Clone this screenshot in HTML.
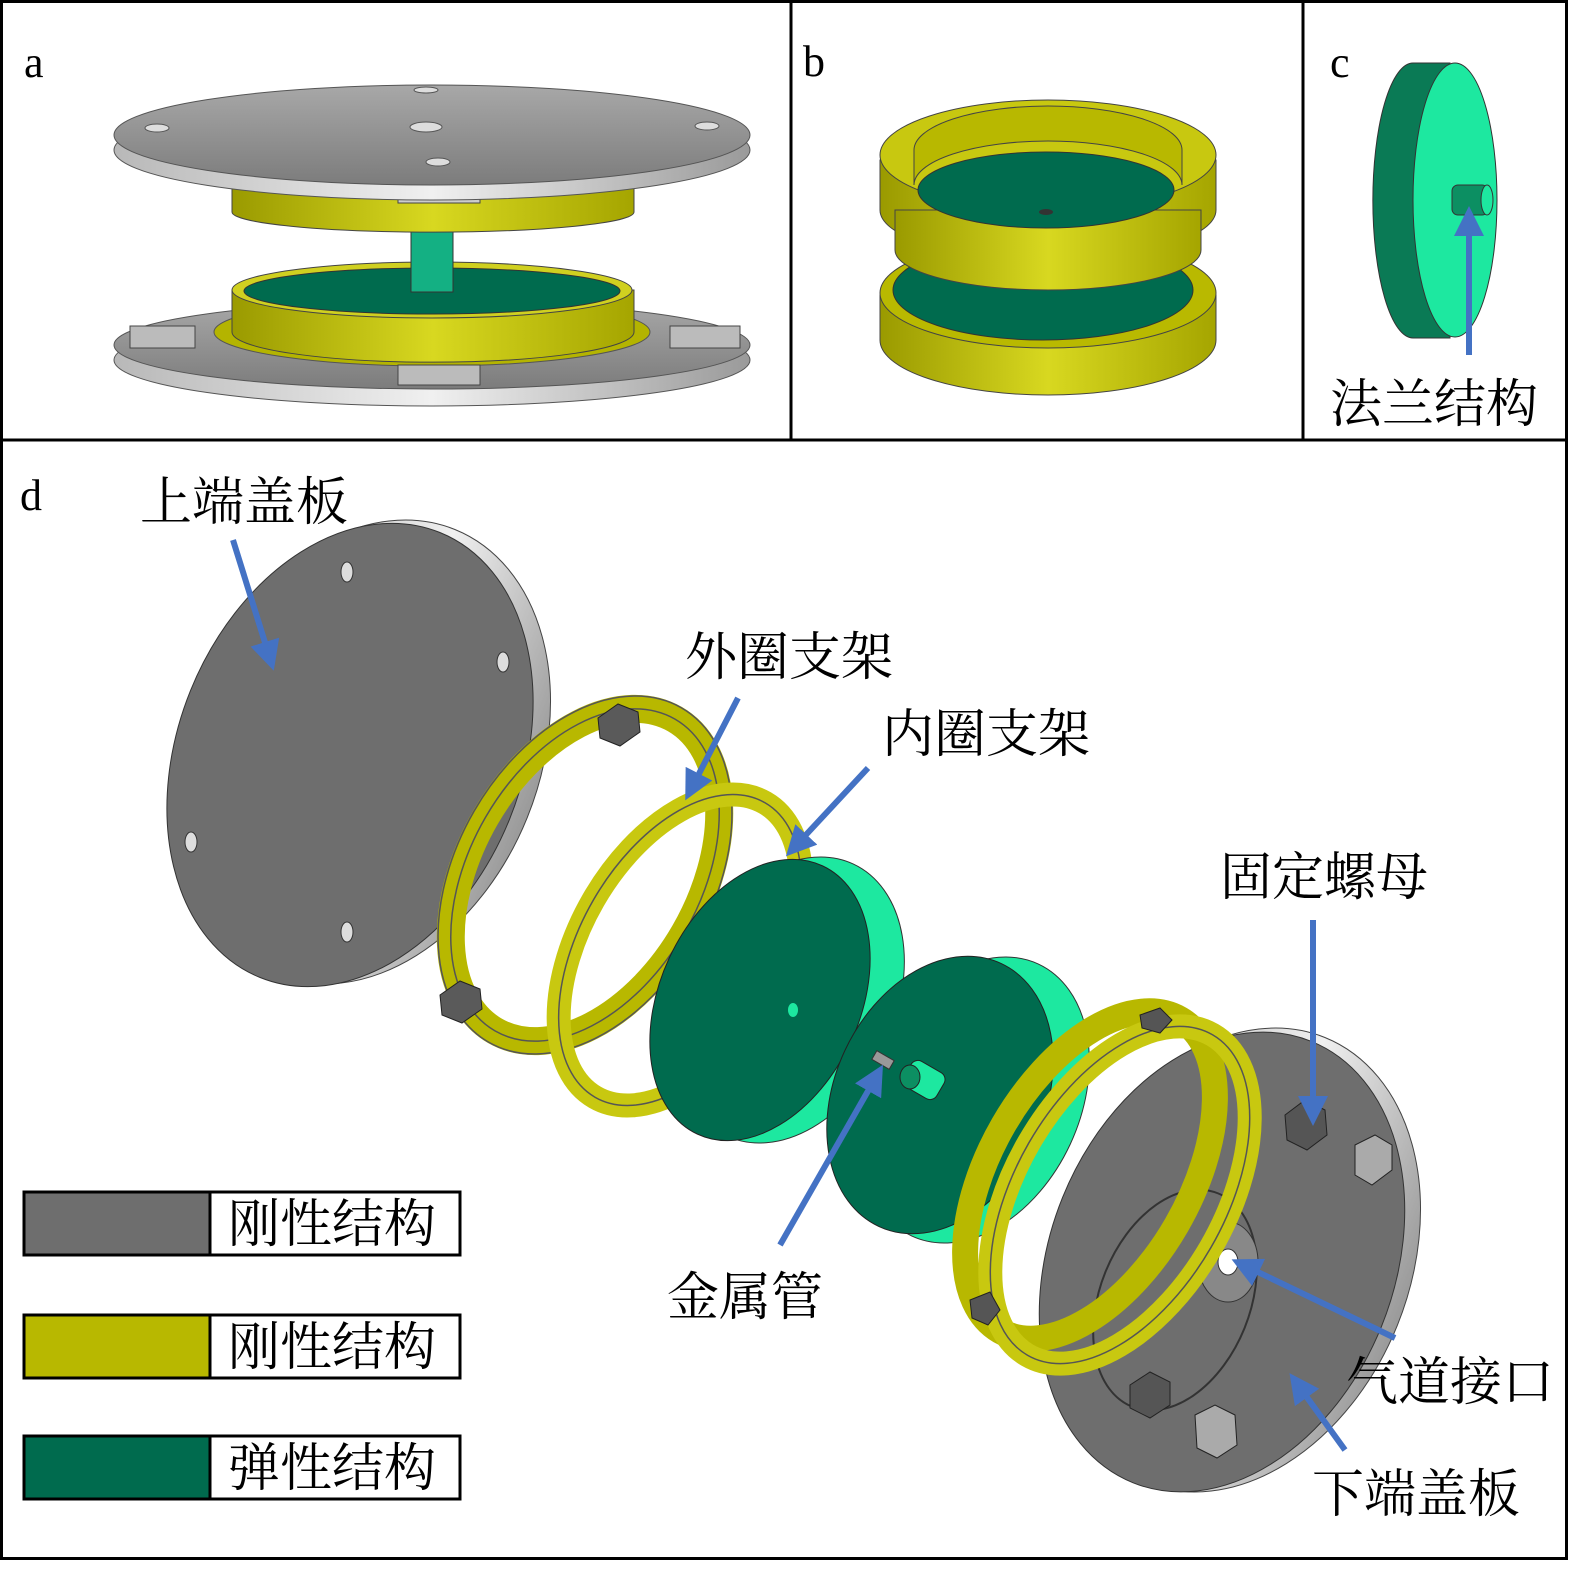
<!DOCTYPE html>
<html><head><meta charset="utf-8"><style>
body{margin:0;background:#fff}
svg{display:block}
text{font-family:"Liberation Serif","Noto Serif CJK SC",serif;fill:#000}
</style></head><body>
<svg width="1578" height="1572" viewBox="0 0 1578 1572" xmlns="http://www.w3.org/2000/svg">
<defs>
<linearGradient id="gp" x1="0" y1="0" x2="1" y2="0"><stop offset="0" stop-color="#b8b8b8"/><stop offset=".5" stop-color="#f0f0f0"/><stop offset="1" stop-color="#9a9a9a"/></linearGradient>
<linearGradient id="gy" x1="0" y1="0" x2="1" y2="0"><stop offset="0" stop-color="#9a9a00"/><stop offset=".5" stop-color="#d8d820"/><stop offset="1" stop-color="#a5a500"/></linearGradient>
<linearGradient id="gt" x1="0" y1="0" x2="0" y2="1"><stop offset="0" stop-color="#a8a8a8"/><stop offset="1" stop-color="#7c7c7c"/></linearGradient>
<marker id="ar" viewBox="0 0 10 10" refX="8" refY="5" markerWidth="5" markerHeight="5" orient="auto"><path d="M0,0L10,5L0,10z" fill="#4472c4"/></marker>
</defs>
<rect x="1.5" y="1.5" width="1565" height="1557" fill="none" stroke="#000" stroke-width="3"/>
<line x1="0" y1="440" x2="1568" y2="440" stroke="#000" stroke-width="3"/>
<line x1="791" y1="0" x2="791" y2="440" stroke="#000" stroke-width="3"/>
<line x1="1303" y1="0" x2="1303" y2="440" stroke="#000" stroke-width="3"/>
<text x="24" y="77" font-size="44">a</text>
<text x="803" y="76" font-size="44">b</text>
<text x="1330" y="77" font-size="44">c</text>
<text x="20" y="510" font-size="44">d</text>

<!-- panel a -->
<ellipse cx="432" cy="360" rx="318" ry="46" fill="url(#gp)" stroke="#555"/>
<ellipse cx="432" cy="345" rx="318" ry="44" fill="url(#gt)" stroke="#555"/>
<ellipse cx="432" cy="332" rx="218" ry="34" fill="#b4b400" stroke="#555"/>
<path d="M232,290 L232,332 A200,30 0 0 0 634,332 L634,290 Z" fill="url(#gy)" stroke="#444"/>
<ellipse cx="432" cy="290" rx="200" ry="28" fill="#d0d020" stroke="#444"/>
<ellipse cx="432" cy="291" rx="188" ry="23" fill="#006b4e" stroke="#333"/>
<rect x="411" y="228" width="42" height="64" fill="#14b083" stroke="#333"/>
<rect x="130" y="326" width="65" height="22" fill="#bbb" stroke="#444"/>
<rect x="670" y="326" width="70" height="22" fill="#bbb" stroke="#444"/>
<rect x="398" y="365" width="82" height="20" fill="#bbb" stroke="#444"/>
<path d="M232,180 L232,212 A200,20 0 0 0 634,212 L634,180 Z" fill="url(#gy)" stroke="#444"/>
<rect x="398" y="186" width="82" height="17" fill="#ccc" stroke="#444"/>
<ellipse cx="432" cy="150" rx="318" ry="50" fill="url(#gp)" stroke="#555"/>
<ellipse cx="432" cy="135" rx="318" ry="50" fill="url(#gt)" stroke="#555"/>
<ellipse cx="426" cy="127" rx="16" ry="5" fill="#ddd" stroke="#555"/>
<ellipse cx="157" cy="128" rx="12" ry="4" fill="#ddd" stroke="#555"/>
<ellipse cx="707" cy="126" rx="12" ry="4" fill="#ddd" stroke="#555"/>
<ellipse cx="426" cy="90" rx="12" ry="3" fill="#ddd" stroke="#555"/>
<ellipse cx="438" cy="162" rx="12" ry="4" fill="#ddd" stroke="#555"/>

<!-- panel b -->
<path d="M880,295 L880,340 A168,55 0 0 0 1216,340 L1216,295 Z" fill="url(#gy)" stroke="#444"/>
<ellipse cx="1048" cy="293" rx="168" ry="55" fill="#b9b900" stroke="#444"/>
<ellipse cx="1043" cy="290" rx="150" ry="50" fill="#006b4e" stroke="#333"/>
<path d="M880,160 L880,210 A168,50 0 0 0 1216,210 L1216,160 Z" fill="url(#gy)" stroke="#444"/>
<path d="M895,210 L895,250 A153,40 0 0 0 1201,250 L1201,210 Z" fill="url(#gy)" stroke="#444"/>
<ellipse cx="1048" cy="155" rx="168" ry="55" fill="#c8c810" stroke="#444"/>
<ellipse cx="1046" cy="190" rx="128" ry="38" fill="#006b4e" stroke="#333"/>
<path d="M914,185 A134,44 0 0 1 1182,185 L1182,150 A134,44 0 0 0 914,150Z" fill="#b8b800" stroke="#444"/>
<ellipse cx="1046" cy="212" rx="7" ry="3" fill="#333"/>

<!-- panel c -->
<path d="M1413,63 L1450,63 L1450,338 L1413,338 A40,137 0 0 1 1413,63Z" fill="#0a7a55" stroke="#333"/>
<ellipse cx="1455" cy="200" rx="42" ry="137" fill="#1de8a0" stroke="#333"/>
<rect x="1452" y="185" width="36" height="30" rx="6" fill="#0c8f62" stroke="#333"/>
<ellipse cx="1487" cy="200" rx="6" ry="15" fill="#1de8a0" stroke="#333"/>
<line x1="1469" y1="355" x2="1469" y2="212" stroke="#4472c4" stroke-width="6" marker-end="url(#ar)"/>
<text x="1330" y="422" font-size="52">法兰结构</text>

<!-- panel d -->
<!-- top plate -->
<ellipse cx="365" cy="752" rx="175" ry="240" transform="rotate(22 365 752)" fill="url(#gp)" stroke="#444"/>
<ellipse cx="350" cy="755" rx="172" ry="240" transform="rotate(22 350 755)" fill="#6e6e6e" stroke="#333"/>
<ellipse cx="347" cy="572" rx="6" ry="10" fill="#ddd" stroke="#333"/>
<ellipse cx="503" cy="662" rx="6" ry="10" fill="#ddd" stroke="#333"/>
<ellipse cx="191" cy="842" rx="6" ry="10" fill="#ddd" stroke="#333"/>
<ellipse cx="347" cy="932" rx="6" ry="10" fill="#ddd" stroke="#333"/>
<!-- outer ring -->
<ellipse cx="585" cy="875" rx="115" ry="180" transform="rotate(30 585 875)" fill="none" stroke="#b8b800" stroke-width="28"/>
<ellipse cx="585" cy="875" rx="115" ry="180" transform="rotate(30 585 875)" fill="none" stroke="#555" stroke-width="1.5"/>
<ellipse cx="585" cy="875" rx="128" ry="193" transform="rotate(30 585 875)" fill="none" stroke="#555" stroke-width="1.5"/>
<polygon points="598,718 618,704 638,712 640,732 620,746 600,738" fill="#5a5a5a" stroke="#222"/>
<polygon points="440,995 460,981 480,989 482,1009 462,1023 442,1015" fill="#5a5a5a" stroke="#222"/>
<!-- inner ring -->
<ellipse cx="680" cy="950" rx="100" ry="170" transform="rotate(30 680 950)" fill="none" stroke="#c8c810" stroke-width="24"/>
<ellipse cx="680" cy="950" rx="100" ry="170" transform="rotate(30 680 950)" fill="none" stroke="#555" stroke-width="1.5"/>
<!-- green disk 1 -->
<ellipse cx="790" cy="1000" rx="105" ry="150" transform="rotate(25 790 1000)" fill="#1de8a0" stroke="#333"/>
<ellipse cx="760" cy="1000" rx="100" ry="148" transform="rotate(25 760 1000)" fill="#006b4e" stroke="#222"/>
<ellipse cx="793" cy="1010" rx="5" ry="7" fill="#1de8a0"/>
<!-- green disk 2 -->
<ellipse cx="975" cy="1100" rx="105" ry="150" transform="rotate(25 975 1100)" fill="#1de8a0" stroke="#333"/>
<ellipse cx="940" cy="1095" rx="105" ry="145" transform="rotate(25 940 1095)" fill="#006b4e" stroke="#222"/>
<rect x="905" y="1065" width="38" height="30" rx="8" transform="rotate(30 924 1080)" fill="#1de8a0" stroke="#222"/>
<ellipse cx="910" cy="1077" rx="10" ry="12" fill="#0c8f62" stroke="#222"/>
<rect x="873" y="1055" width="20" height="10" fill="#999" stroke="#333" transform="rotate(30 883 1060)"/>
<!-- bottom plate -->
<ellipse cx="1235" cy="1260" rx="175" ry="240" transform="rotate(22 1235 1260)" fill="url(#gp)" stroke="#444"/>
<ellipse cx="1222" cy="1262" rx="172" ry="238" transform="rotate(22 1222 1262)" fill="#6e6e6e" stroke="#333"/>
<ellipse cx="1175" cy="1300" rx="75" ry="115" transform="rotate(22 1175 1300)" fill="none" stroke="#333" stroke-width="2"/>
<ellipse cx="1228" cy="1262" rx="30" ry="40" fill="#888" stroke="#333"/>
<ellipse cx="1228" cy="1262" rx="10" ry="13" fill="#fff" stroke="#333"/>
<polygon points="1285,1115 1305,1100 1325,1110 1327,1135 1307,1150 1287,1140" fill="#555" stroke="#222"/>
<polygon points="1355,1145 1375,1135 1392,1145 1392,1170 1372,1185 1355,1175" fill="#aaa" stroke="#222"/>
<polygon points="1130,1385 1150,1372 1170,1382 1170,1405 1150,1418 1130,1408" fill="#555" stroke="#222"/>
<polygon points="1195,1415 1215,1405 1235,1415 1237,1445 1217,1458 1197,1448" fill="#aaa" stroke="#222"/>
<!-- rings near bottom -->
<ellipse cx="1090" cy="1175" rx="100" ry="180" transform="rotate(30 1090 1175)" fill="none" stroke="#b8b800" stroke-width="26"/>
<ellipse cx="1120" cy="1195" rx="105" ry="185" transform="rotate(30 1120 1195)" fill="none" stroke="#c8c810" stroke-width="24"/>
<ellipse cx="1120" cy="1195" rx="105" ry="185" transform="rotate(30 1120 1195)" fill="none" stroke="#555" stroke-width="1.5"/>
<polygon points="1140,1015 1160,1008 1172,1020 1160,1033 1142,1028" fill="#555" stroke="#222"/>
<polygon points="970,1300 990,1292 1000,1310 988,1325 972,1318" fill="#555" stroke="#222"/>

<!-- arrows -->
<g stroke="#4472c4" stroke-width="6" fill="none" marker-end="url(#ar)">
<line x1="233" y1="540" x2="272" y2="665"/>
<line x1="738" y1="698" x2="688" y2="795"/>
<line x1="868" y1="768" x2="790" y2="852"/>
<line x1="780" y1="1245" x2="880" y2="1070"/>
<line x1="1313" y1="920" x2="1313" y2="1120"/>
<line x1="1395" y1="1338" x2="1237" y2="1262"/>
<line x1="1345" y1="1450" x2="1293" y2="1378"/>
</g>
<g font-size="52">
<text x="140" y="520">上端盖板</text>
<text x="685" y="675">外圈支架</text>
<text x="882" y="752">内圈支架</text>
<text x="1220" y="895">固定螺母</text>
<text x="667" y="1315">金属管</text>
<text x="1346" y="1400">气道接口</text>
<text x="1312" y="1512">下端盖板</text>
</g>
<!-- legend -->
<rect x="24" y="1192" width="186" height="63" fill="#6e6e6e" stroke="#000" stroke-width="3"/>
<rect x="210" y="1192" width="250" height="63" fill="#fff" stroke="#000" stroke-width="3"/>
<rect x="24" y="1315" width="186" height="63" fill="#b8b800" stroke="#000" stroke-width="3"/>
<rect x="210" y="1315" width="250" height="63" fill="#fff" stroke="#000" stroke-width="3"/>
<rect x="24" y="1436" width="186" height="63" fill="#006b4e" stroke="#000" stroke-width="3"/>
<rect x="210" y="1436" width="250" height="63" fill="#fff" stroke="#000" stroke-width="3"/>
<g font-size="52">
<text x="228" y="1242">刚性结构</text>
<text x="228" y="1365">刚性结构</text>
<text x="228" y="1486">弹性结构</text>
</g>
</svg>
</body></html>
